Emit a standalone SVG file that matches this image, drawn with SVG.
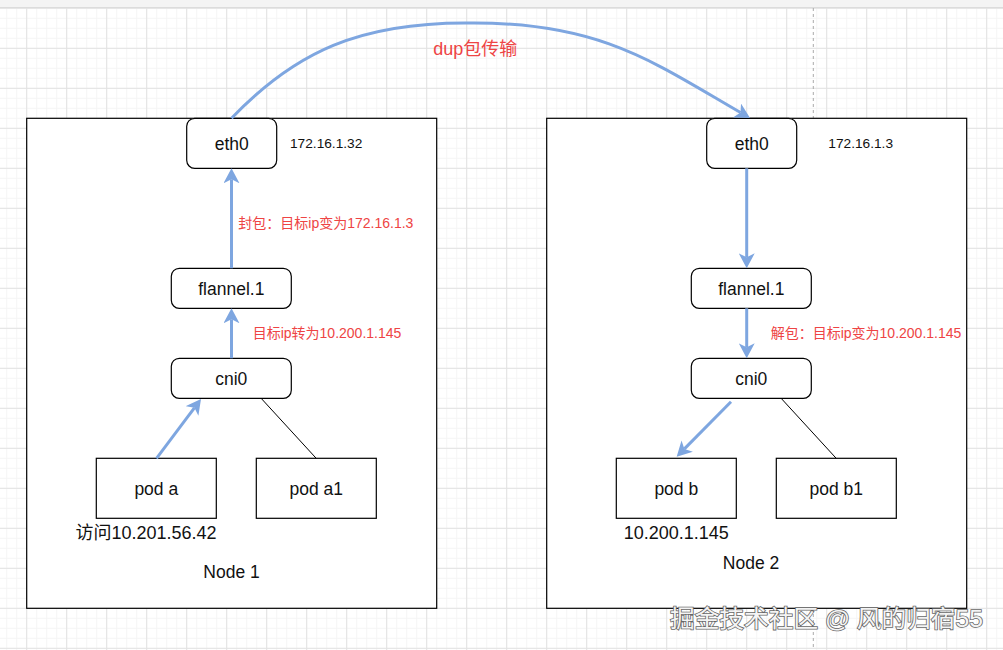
<svg xmlns="http://www.w3.org/2000/svg" width="1003" height="650" viewBox="0 0 1003 650">
<style>
.box{fill:#fff;stroke:#000;stroke-width:1.2}
.rbox{fill:#fff;stroke:#000;stroke-width:1.2}
.t{font-family:"Liberation Sans","Noto Sans CJK SC",sans-serif;fill:#111;font-size:17.5px;text-anchor:middle}
.ip{font-family:"Liberation Sans","Noto Sans CJK SC",sans-serif;fill:#111;font-size:13.7px}
.red{font-family:"Liberation Sans","Noto Sans CJK SC",sans-serif;fill:#EE4444;font-size:14px}
.flow{fill:none;stroke:#7EA6E0;stroke-width:3}
.plain{fill:none;stroke:#000;stroke-width:1}
.wm{font-family:"Liberation Sans","Noto Sans CJK SC",sans-serif;font-size:24px;fill:#f4f4f4;stroke:#666;stroke-width:1.6;paint-order:stroke}
</style>
<defs>
<pattern id="minor" patternUnits="userSpaceOnUse" x="6.2" y="7.8" width="10" height="10">
<path d="M0.5 0V10M0 0.5H10" stroke="#f5f5f5" stroke-width="1" fill="none"/>
</pattern>
<pattern id="major" patternUnits="userSpaceOnUse" x="26.2" y="7.8" width="40" height="40">
<path d="M0.5 0V40M0 0.5H40" stroke="#e2e2e2" stroke-width="1" fill="none"/>
</pattern>
<marker id="arr" viewBox="0 0 15 16" refX="4" refY="8" markerWidth="15" markerHeight="16" markerUnits="userSpaceOnUse" orient="auto">
<path d="M15 8L0 0L4 8L0 16Z" fill="#7EA6E0"/>
</marker>
</defs>
<rect width="1003" height="650" fill="#fff"/>
<rect y="8" width="1003" height="642" fill="url(#minor)"/>
<rect y="8" width="1003" height="642" fill="url(#major)"/>
<rect width="1003" height="7.5" fill="#f4f4f4"/>
<line x1="0" y1="7.5" x2="1003" y2="7.5" stroke="#dcdcdc"/>
<line x1="813.3" y1="8" x2="813.3" y2="650" stroke="#aaa" stroke-dasharray="3 3"/>

<g id="node1">
<rect class="box" x="26.7" y="118.3" width="410" height="490"/>
<text class="t" x="231.5" y="578">Node 1</text>
</g>
<g id="node2">
<rect class="box" x="546.7" y="118.3" width="420" height="490"/>
<text class="t" x="751" y="569">Node 2</text>
</g>

<g id="eth0-1">
<rect class="rbox" x="186.7" y="118.3" width="90" height="50" rx="8"/>
<text class="t" x="231.7" y="149.5">eth0</text>
</g>
<text class="ip" x="290" y="148.3">172.16.1.32</text>
<g id="flannel-1">
<rect class="rbox" x="171.3" y="268.3" width="120" height="40" rx="8"/>
<text class="t" x="231.3" y="294.5">flannel.1</text>
</g>
<g id="cni0-1">
<rect class="rbox" x="171.3" y="358.3" width="120" height="40" rx="8"/>
<text class="t" x="231.3" y="384.5">cni0</text>
</g>
<g id="poda">
<rect class="box" x="96.3" y="458.3" width="120" height="60"/>
<text class="t" x="156.3" y="494.5">pod a</text>
</g>
<g id="poda1">
<rect class="box" x="256.3" y="458.3" width="120" height="60"/>
<text class="t" x="316.3" y="494.5">pod a1</text>
</g>
<text class="t" x="146" y="539" style="font-size:18px">访问10.201.56.42</text>

<g id="eth0-2">
<rect class="rbox" x="706.7" y="118.3" width="90" height="50" rx="8"/>
<text class="t" x="751.7" y="149.5">eth0</text>
</g>
<text class="ip" x="828.3" y="148.3">172.16.1.3</text>
<g id="flannel-2">
<rect class="rbox" x="691.3" y="268.3" width="120" height="40" rx="8"/>
<text class="t" x="751.3" y="294.5">flannel.1</text>
</g>
<g id="cni0-2">
<rect class="rbox" x="691.3" y="358.3" width="120" height="40" rx="8"/>
<text class="t" x="751.3" y="384.5">cni0</text>
</g>
<g id="podb">
<rect class="box" x="616.3" y="458.3" width="120" height="60"/>
<text class="t" x="676.3" y="494.5">pod b</text>
</g>
<g id="podb1">
<rect class="box" x="776.3" y="458.3" width="120" height="60"/>
<text class="t" x="836.3" y="494.5">pod b1</text>
</g>
<text class="t" x="676.3" y="539" style="font-size:18px">10.200.1.145</text>

<g id="connectors">
<path class="flow" d="M231.5 118.3C295 52 360 22 470 23C600 22 654 62.5 740.5 112.5" marker-end="url(#arr)"/>
<line class="flow" x1="231.5" y1="268.3" x2="231.5" y2="179.3" marker-end="url(#arr)"/>
<line class="flow" x1="231.5" y1="358.3" x2="231.5" y2="319.3" marker-end="url(#arr)"/>
<line class="flow" x1="156.5" y1="458.3" x2="194.4" y2="407.8" marker-end="url(#arr)"/>
<line class="plain" x1="261.6" y1="398.8" x2="316.2" y2="458.3"/>
<line class="flow" x1="746.7" y1="168.3" x2="746.7" y2="257.3" marker-end="url(#arr)"/>
<line class="flow" x1="746.7" y1="308.3" x2="746.7" y2="347.3" marker-end="url(#arr)"/>
<line class="flow" x1="731" y1="401.7" x2="684.4" y2="448.9" marker-end="url(#arr)"/>
<line class="plain" x1="781.6" y1="398.8" x2="836.2" y2="458.3"/>
</g>

<text class="red" x="433.3" y="54.5" style="font-size:18px">dup包传输</text>
<text class="red" x="238.3" y="228.3">封包：目标ip变为172.16.1.3</text>
<text class="red" x="252.7" y="338.3">目标ip转为10.200.1.145</text>
<text class="red" x="770.7" y="338.3">解包：目标ip变为10.200.1.145</text>

<text class="wm" x="670" y="627" textLength="313" lengthAdjust="spacingAndGlyphs">掘金技术社区 @ 风的归宿55</text>
</svg>
